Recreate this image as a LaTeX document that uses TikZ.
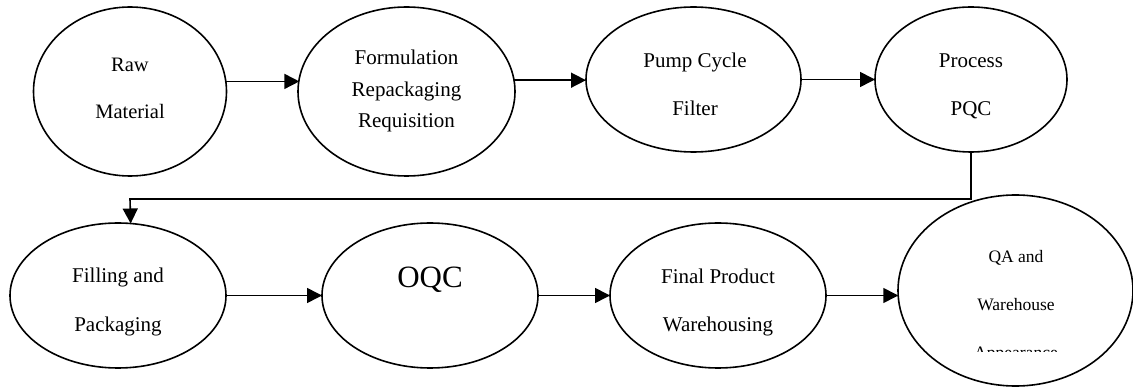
\documentclass[tikz,border=0pt]{standalone}
\usepackage{fontspec}
\setmainfont{Liberation Serif}
\usetikzlibrary{arrows.meta,shapes.geometric}
\tikzset{
  proc/.style={draw=black, line width=1.6pt, ellipse, inner sep=0pt, outer sep=0pt},
  lbl/.style={anchor=base, inner sep=0pt, font=\fontsize{21}{25}\selectfont},
  lblsmall/.style={anchor=base, inner sep=0pt, font=\fontsize{17.5}{21}\selectfont},
  flow/.style={line width=1.6pt, -{Triangle[length=15pt,width=15pt]}}
}
\begin{document}
\begin{tikzpicture}[x=1pt,y=-1pt]
\useasboundingbox (0,0) rectangle (1133,387);
% row 1
\node[proc, minimum width=193pt, minimum height=169pt] (raw) at (130,91.5) {};
\node[proc, minimum width=217pt, minimum height=169pt] (form) at (406.5,91.5) {};
\node[proc, minimum width=215pt, minimum height=145pt] (pump) at (693.5,79.5) {};
\node[proc, minimum width=192pt, minimum height=145pt] (pqc) at (971,79.5) {};
% row 2
\node[proc, minimum width=216pt, minimum height=145pt] (fillpk) at (118,295.5) {};
\node[proc, minimum width=216pt, minimum height=145pt] (oqc) at (430,295.5) {};
\node[proc, minimum width=216pt, minimum height=145pt] (fpw) at (718,295.5) {};
\node[proc, minimum width=235pt, minimum height=191pt] (qa) at (1015.5,290.5) {};
% texts
\node[lbl, font=\fontsize{20.5}{25}\selectfont] (t1a) at (130,72) {Raw};
\node[lbl, font=\fontsize{20.5}{25}\selectfont] (t1b) at (130,119) {Material};
\node[lbl] (t2a) at (406.5,65) {Formulation};
\node[lbl] (t2b) at (406.5,97) {Repackaging};
\node[lbl] (t2c) at (406.5,128) {Requisition};
\node[lbl] (t3a) at (695,68) {Pump Cycle};
\node[lbl] (t3b) at (695,116) {Filter};
\node[lbl] (t4a) at (971,68) {Process};
\node[lbl] (t4b) at (971,116) {PQC};
\node[lbl] (t5a) at (118,283) {Filling and};
\node[lbl] (t5b) at (118,332) {Packaging};
\node[lbl, font=\fontsize{31}{36}\selectfont] (t6a) at (430,288) {OQC};
\node[lbl] (t7a) at (718,284) {Final Product};
\node[lbl] (t7b) at (718,332) {Warehousing};
\node[lblsmall] (t8a) at (1016,263) {QA and};
\node[lblsmall] (t8b) at (1016,311) {Warehouse};
\begin{scope}
  \clip (950,330) rectangle (1080,352);
  \node[lblsmall] (t8c) at (1016,359) {Appearance};
\end{scope}
% connectors
\draw[flow] (raw.6.9) -- (raw.6.9 -| form.173.9);
\draw[flow] (form.6.1) -- (form.6.1 -| pump.west);
\draw[flow] (pump.east) -- (pqc.west);
\coordinate (bend) at (130,199);
\draw[flow] (pqc.south) |- (bend) -- (fillpk.80.5);
\draw[flow] (fillpk.east) -- (oqc.west);
\draw[flow] (oqc.east) -- (fpw.west);
\draw[flow] (fpw.east) -- (fpw.east -| qa.183);
\end{tikzpicture}
\end{document}
